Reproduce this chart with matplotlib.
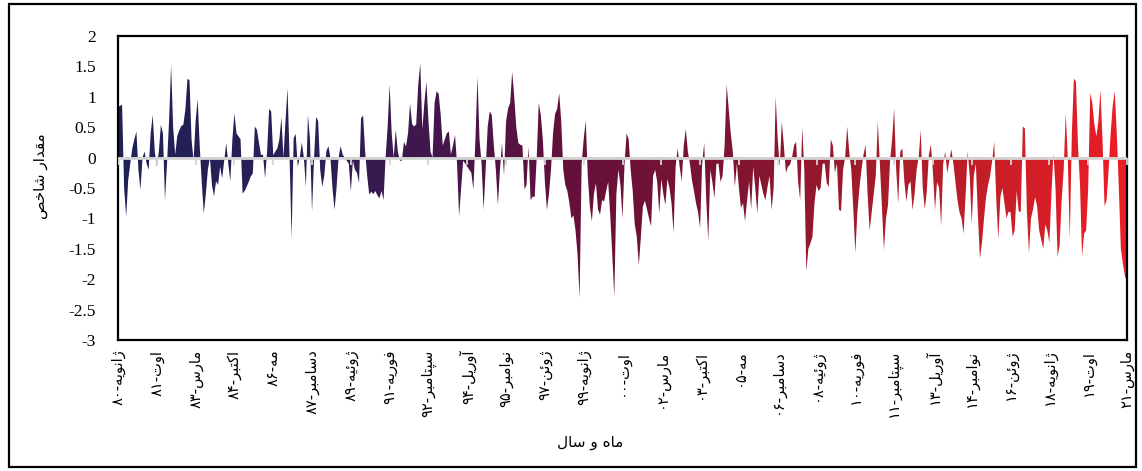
import re
import numpy as np
import matplotlib
matplotlib.use("Agg")
import matplotlib.pyplot as plt
from matplotlib.colors import LinearSegmentedColormap
from matplotlib.patches import Rectangle

# ماهانه، ژانویه ۱۹۸۰ تا مارس ۲۰۲۱ (هر ردیف یک سال)
index_values = [
    0.84, 0.85, 0.87, -0.5, -0.97, -0.37, -0.1, 0.15, 0.3, 0.43, -0.2, -0.53,      # 1980
    0.0, 0.1, -0.1, -0.2, 0.4, 0.7, 0.1, -0.15, 0.1, 0.54, 0.4, -0.7,              # 1981
    -0.1, 0.6, 1.52, 0.5, 0.05, 0.35, 0.45, 0.52, 0.54, 0.8, 1.29, 1.28,           # 1982
    0.3, -0.05, 0.6, 0.96, 0.2, -0.4, -0.92, -0.6, -0.2, 0.0, -0.45, -0.64,        # 1983
    -0.39, -0.45, -0.15, -0.34, -0.05, 0.24, -0.1, -0.39, 0.3, 0.73, 0.4, 0.35,    # 1984
    0.3, -0.59, -0.55, -0.48, -0.4, -0.31, -0.26, 0.51, 0.46, 0.25, 0.04, 0.05,    # 1985
    -0.34, 0.1, 0.8, 0.76, 0.04, 0.1, 0.15, 0.3, 0.66, 0.0, 0.6, 1.14,             # 1986
    0.0, -1.33, 0.32, 0.39, -0.15, 0.0, 0.25, 0.0, -0.48, 0.7, 0.3, -0.89,         # 1987
    0.0, 0.67, 0.6, -0.2, -0.48, -0.3, 0.1, 0.19, 0.0, -0.5, -0.86, -0.5,          # 1988
    0.0, 0.19, 0.05, 0.0, -0.05, -0.1, -0.56, -0.05, -0.2, -0.25, -0.42, 0.65,     # 1989
    0.69, 0.1, -0.3, -0.61, -0.56, -0.6, -0.55, -0.62, -0.67, -0.55, -0.7, 0.0,    # 1990
    0.5, 1.2, 0.4, 0.0, 0.46, 0.1, -0.05, -0.05, 0.26, 0.18, 0.4, 0.89,            # 1991
    0.55, 0.51, 0.55, 1.2, 1.55, 0.46, 0.9, 1.25, 0.6, 0.1, 0.0, 0.9,              # 1992
    1.09, 1.05, 0.7, 0.2, 0.3, 0.4, 0.43, 0.05, 0.2, 0.37, -0.1, -0.97,            # 1993
    -0.5, -0.05, -0.1, -0.15, -0.2, -0.25, -0.53, 0.3, 1.33, 0.3, -0.1, -0.86,     # 1994
    -0.2, 0.51, 0.76, 0.7, 0.2, -0.2, -0.78, -0.2, 0.24, -0.3, 0.6, 0.81,          # 1995
    0.9, 1.41, 1.0, 0.5, 0.24, 0.21, 0.2, -0.52, -0.45, 0.18, -0.7, -0.64,         # 1996
    -0.65, 0.0, 0.9, 0.7, 0.3, -0.4, -0.86, -0.6, -0.2, 0.4, 0.72, 0.8,            # 1997
    1.06, 0.6, -0.2, -0.45, -0.55, -0.75, -1.0, -0.95, -1.2, -1.6, -2.31, -0.1,    # 1998
    0.3, 0.61, -0.3, -0.8, -1.05, -0.6, -0.42, -0.85, -0.94, -0.7, -0.72, -0.55,   # 1999
    -0.4, -0.95, -1.6, -2.29, -0.6, -0.2, -0.45, -1.0, -0.1, 0.4, 0.3, -0.2,       # 2000
    -0.55, -1.1, -1.3, -1.77, -1.3, -0.8, -0.71, -0.85, -1.0, -1.13, -0.3, -0.2,   # 2001
    -0.4, -0.92, -0.35, -0.6, -0.78, -0.35, -0.5, -0.75, -1.24, -0.15, 0.15, -0.15,  # 2002
    -0.39, 0.2, 0.47, 0.1, -0.1, -0.37, -0.55, -0.75, -0.9, -1.16, -0.1, 0.24,     # 2003
    -0.7, -1.37, -0.2, -0.4, -0.67, -0.1, -0.1, -0.4, -0.3, 0.2, 1.2, 0.8,         # 2004
    0.4, 0.1, -0.48, -0.1, -0.5, -0.83, -0.75, -1.05, -0.7, -0.4, -0.85, -0.15,    # 2005
    -0.5, -0.92, -0.3, -0.45, -0.6, -0.7, -0.48, -0.3, -0.86, -0.5, 1.0, 0.3,      # 2006
    -0.15, 0.59, 0.2, -0.25, -0.15, -0.12, 0.0, 0.2, 0.26, -0.4, -0.7, 0.5,        # 2007
    -0.2, -1.87, -1.5, -1.41, -1.3, -0.75, -0.45, -0.55, -0.5, -0.1, -0.1, -0.42,  # 2008
    -0.48, 0.3, 0.2, -0.25, -0.1, -0.86, -0.88, -0.2, 0.0, 0.51, 0.1, -0.2,        # 2009
    -0.85, -1.57, -0.9, -0.5, -0.2, 0.05, 0.21, -0.6, -1.2, -0.9, -0.6, -0.3,      # 2010
    0.59, -0.1, -0.8, -1.52, -1.0, -0.78, -0.05, 0.3, 0.81, -0.2, -0.75, 0.1,      # 2011
    0.15, -0.4, -0.72, -0.45, -0.39, -0.86, -0.6, -0.2, 0.0, 0.45, -0.5, -0.85,    # 2012
    -0.55, 0.05, 0.21, -0.25, -0.86, -0.4, -0.5, -1.13, -0.1, 0.1, -0.26, -0.05,   # 2013
    0.14, -0.1, -0.4, -0.7, -0.9, -1.0, -1.25, -0.6, 0.1, -0.3, -1.1, -0.3,        # 2014
    -0.1, -0.95, -1.66, -1.4, -1.0, -0.65, -0.45, -0.3, -0.05, 0.26, -0.7, -1.35,  # 2015
    -0.65, -0.5, -0.75, -1.0, -0.89, -0.9, -1.3, -1.2, -0.55, -0.89, -0.89, 0.51,  # 2016
    0.48, -0.9, -1.57, -1.0, -0.85, -0.65, -0.8, -1.2, -1.35, -1.5, -1.1, -1.2,    # 2017
    -1.4, -0.6, 0.07, -0.5, -1.63, -1.45, -0.7, -0.2, 0.73, 0.0, -1.35, 0.4,       # 2018
    1.3, 1.25, 0.2, -0.45, -1.63, -1.25, -1.2, -0.5, 1.06, 0.9, 0.55, 0.35,        # 2019
    0.6, 1.11, 0.3, -0.8, -0.7, -0.2, 0.4, 0.85, 1.09, 0.4, -0.5, -1.5,            # 2020
    -1.75, -1.95, -2.05,                                                           # 2021
]

tick_labels = [
    "ژانویه-۸۰", "اوت-۸۱", "مارس-۸۳", "اکتبر-۸۴", "مه-۸۶", "دسامبر-۸۷",
    "ژوئیه-۸۹", "فوریه-۹۱", "سپتامبر-۹۲", "آوریل-۹۴", "نوامبر-۹۵", "ژوئن-۹۷",
    "ژانویه-۹۹", "اوت-۰۰", "مارس-۰۲", "اکتبر-۰۳", "مه-۰۵", "دسامبر-۰۶",
    "ژوئیه-۰۸", "فوریه-۱۰", "سپتامبر-۱۱", "آوریل-۱۳", "نوامبر-۱۴", "ژوئن-۱۶",
    "ژانویه-۱۸", "اوت-۱۹", "مارس-۲۱",
]
tick_step = 19  # فاصله برچسب ها (ماه)

y_label = "مقدار شاخص"
x_label = "ماه و سال"

# matplotlib حروف فارسی را به هم نمی چسباند، پس شکل های نمایشی را خودمان می سازیم
FORMS = {
    '\u0627': (0xFE8D, 0xFE8E), '\u0622': (0xFE81, 0xFE82),
    '\u062F': (0xFEA9, 0xFEAA), '\u0631': (0xFEAD, 0xFEAE),
    '\u0698': (0xFB8A, 0xFB8B), '\u0648': (0xFEED, 0xFEEE),
    '\u0628': (0xFE8F, 0xFE90, 0xFE91, 0xFE92),
    '\u067E': (0xFB56, 0xFB57, 0xFB58, 0xFB59),
    '\u062A': (0xFE95, 0xFE96, 0xFE97, 0xFE98),
    '\u062E': (0xFEA5, 0xFEA6, 0xFEA7, 0xFEA8),
    '\u0633': (0xFEB1, 0xFEB2, 0xFEB3, 0xFEB4),
    '\u0634': (0xFEB5, 0xFEB6, 0xFEB7, 0xFEB8),
    '\u0635': (0xFEB9, 0xFEBA, 0xFEBB, 0xFEBC),
    '\u0641': (0xFED1, 0xFED2, 0xFED3, 0xFED4),
    '\u0642': (0xFED5, 0xFED6, 0xFED7, 0xFED8),
    '\u06A9': (0xFB8E, 0xFB8F, 0xFB90, 0xFB91),
    '\u0644': (0xFEDD, 0xFEDE, 0xFEDF, 0xFEE0),
    '\u0645': (0xFEE1, 0xFEE2, 0xFEE3, 0xFEE4),
    '\u0646': (0xFEE5, 0xFEE6, 0xFEE7, 0xFEE8),
    '\u0647': (0xFEE9, 0xFEEA, 0xFEEB, 0xFEEC),
    '\u06CC': (0xFBFC, 0xFBFD, 0xFBFE, 0xFBFF),
    '\u0626': (0xFE89, 0xFE8A, 0xFE8B, 0xFE8C),
}


def fa(text):
    out = []
    for i, ch in enumerate(text):
        forms = FORMS.get(ch)
        if forms is None:
            out.append(ch)
            continue
        prev = text[i - 1] if i > 0 else ''
        nxt = text[i + 1] if i + 1 < len(text) else ''
        join_prev = len(FORMS.get(prev, ())) == 4
        join_next = len(forms) == 4 and nxt in FORMS
        if join_prev and join_next:
            k = 3
        elif join_prev:
            k = 1
        elif join_next:
            k = 2
        else:
            k = 0
        out.append(chr(forms[k]))
    # راست به چپ، ولی ارقام چپ به راست می مانند
    runs = re.findall(r'[\u06F0-\u06F9]+|.', ''.join(out))
    return ''.join(reversed(runs))


y = np.array(index_values)
x = np.arange(len(y))
ticks = np.arange(0, len(y), tick_step)

W, H = 1142, 471
fig = plt.figure(figsize=(W / 100, H / 100), dpi=100)
ax = fig.add_axes([118 / W, 1 - 340 / H, (1127 - 118) / W, (340 - 36) / H])

cmap = LinearSegmentedColormap.from_list("idx", [
    (0.0, "#1f2257"), (0.2, "#2c1e56"), (0.33, "#46164a"), (0.45, "#65103b"),
    (0.6, "#7c1432"), (0.75, "#a31c2a"), (0.9, "#d01f28"), (1.0, "#ee1c25"),
])

area = ax.fill_between(x, y, 0, facecolor="none", edgecolor="none")
grad = np.linspace(0, 1, 512).reshape(1, -1)
im = ax.imshow(grad, extent=[x[0], x[-1], -3, 2], aspect="auto", cmap=cmap,
               origin="lower", zorder=2, interpolation="bilinear")
im.set_clip_path(area.get_paths()[0], transform=ax.transData)

ax.axhline(0, color="#d4d4d4", lw=2, zorder=3)
ax.plot(ticks, np.zeros(len(ticks)), ls="none", marker=3, ms=5,
        mec="#d4d4d4", mew=1.3, zorder=3)

ax.set_xlim(x[0], x[-1])
ax.set_ylim(-3, 2)
ax.set_yticks(np.arange(-3, 2.01, 0.5))
ax.set_yticklabels([f"{v:g}" for v in np.arange(-3, 2.01, 0.5)],
                   family="Liberation Serif", fontsize=12.5)
ax.tick_params(axis="y", length=0, pad=16)

ax.set_xticks(ticks)
ax.set_xticklabels([fa(t) for t in tick_labels], rotation=90,
                   family="DejaVu Sans", fontsize=10.5)
ax.tick_params(axis="x", length=0, pad=7)

for s in ax.spines.values():
    s.set_linewidth(1.6)
    s.set_color("black")

fig.text(40 / W, 1 - 176 / H, fa(y_label), rotation=90, ha="center",
         va="center", family="DejaVu Sans", fontsize=11)
fig.text(590 / W, 1 - 443 / H, fa(x_label), ha="center", va="center",
         family="DejaVu Sans", fontsize=11)

fig.patches.append(Rectangle((9 / W, 4 / H), (1136 - 9) / W, (467 - 4) / H,
                             transform=fig.transFigure, fill=False,
                             edgecolor="black", lw=1.6))

fig.savefig("out.png", dpi=100)
